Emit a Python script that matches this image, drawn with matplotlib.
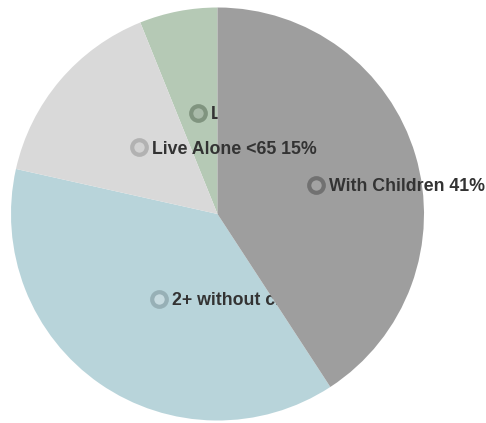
import matplotlib
matplotlib.use("Agg")
import matplotlib.pyplot as plt
import numpy as np

categories = ["With Children", "2+ without children", "Live Alone <65", "Live Alone 65+"]
values = [40.8, 37.7, 15.4, 6.1]
labels = ["With Children 41%", "2+ without children 38%", "Live Alone <65 15%", "Live Alone 65+ 6%"]
colors = ["#9e9e9e", "#b8d4da", "#d9d9d9", "#b5c9b5"]
ring_colors = ["#717171", "#97b0b6", "#b2b2b2", "#80947f"]
fill_colors = ["#a3a3a3", "#c6dadf", "#d2d2d2", "#a9baa9"]
# draw order (wedge + label pairs)
order = [3, 1, 0, 2]

W, H = 486, 423
fig = plt.figure(figsize=(W / 100, H / 100), dpi=100)
ax = fig.add_axes([0, 0, 1, 1])

cx, cy, R = 217.5, H - 214, 206.5
wedges, _ = ax.pie(values, colors=colors, startangle=90, counterclock=False,
                   center=(cx, cy), radius=R, frame=True,
                   wedgeprops=dict(linewidth=0))
ax.set_xlim(0, W)
ax.set_ylim(0, H)
ax.set_aspect("equal")
ax.axis("off")

z = 1
for i in order:
    w = wedges[i]
    w.set_zorder(z)
    mid = np.deg2rad((w.theta1 + w.theta2) / 2)
    mx = cx + 0.5 * R * np.cos(mid)
    my = cy + 0.5 * R * np.sin(mid)
    ax.plot([mx], [my], marker="o", markersize=10.5, markeredgewidth=3.0,
            markerfacecolor=fill_colors[i], markeredgecolor=ring_colors[i],
            zorder=z + 1, clip_on=False)
    ax.text(mx + 13, my, labels[i], ha="left", va="center_baseline",
            fontsize=12.8, fontweight="bold", color="#333333",
            family="Liberation Sans", zorder=z + 1, clip_on=False)
    z += 2

fig.savefig("out.png", dpi=100)
